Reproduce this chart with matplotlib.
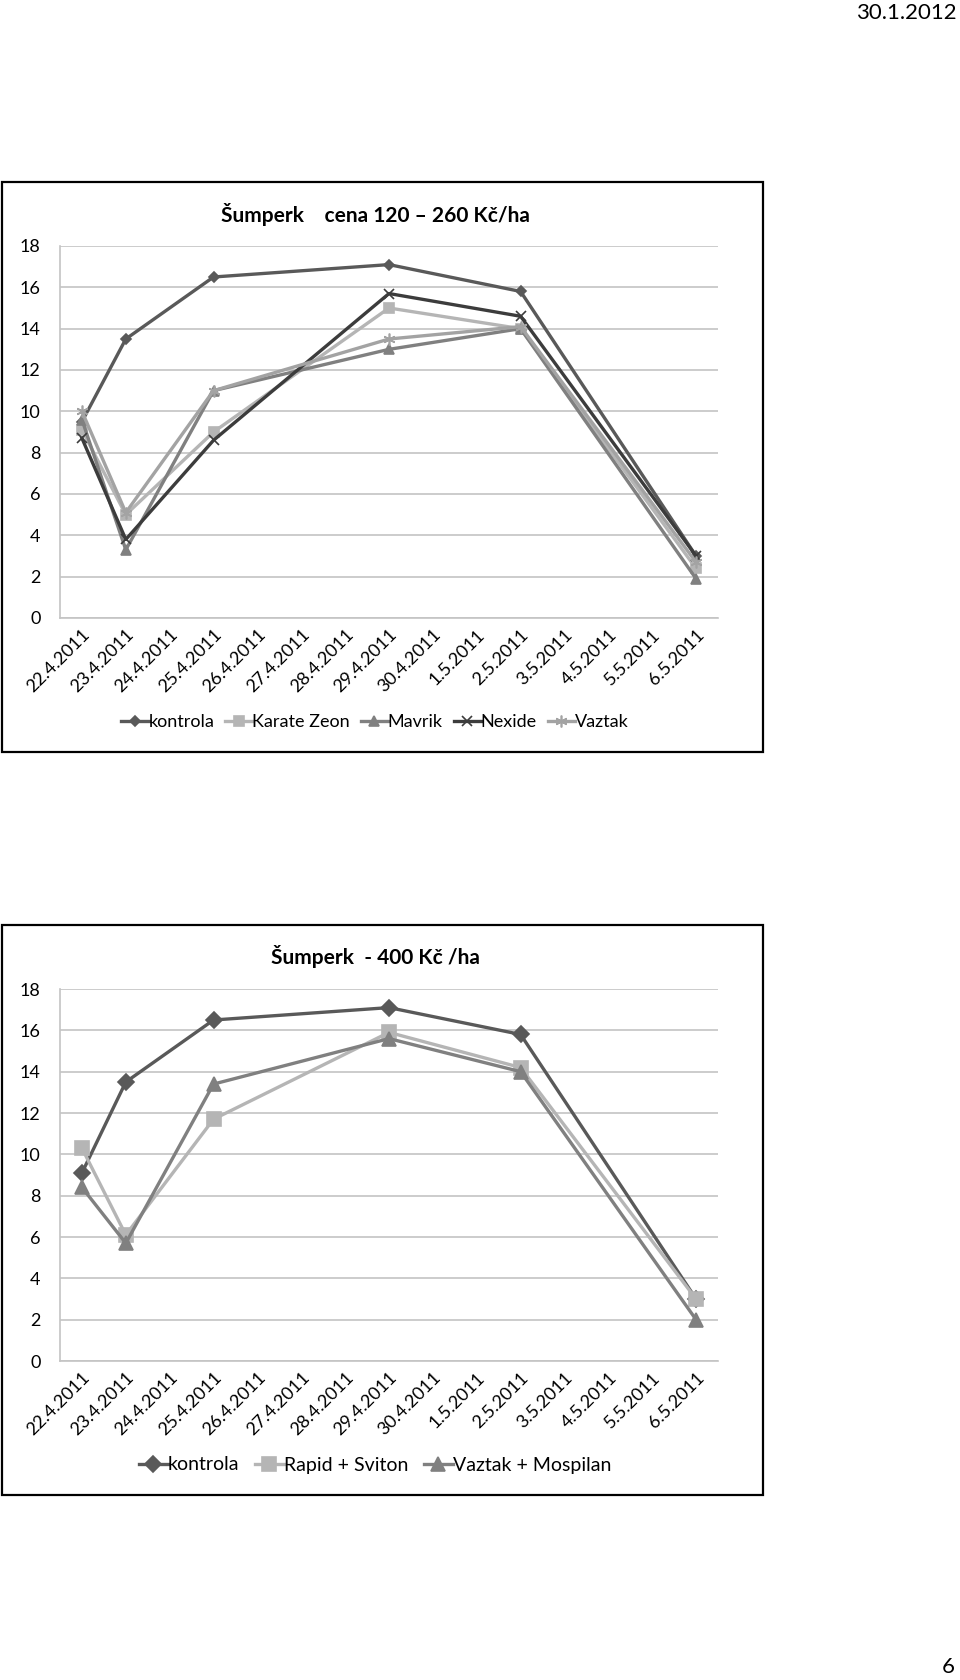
import numpy as np
import matplotlib
matplotlib.use("Agg")
import matplotlib.pyplot as plt
from matplotlib.patches import Rectangle

plt.rcParams['font.family'] = ['Lato', 'DejaVu Sans']

# dates on the category axis
dates = ["22.4.2011", "23.4.2011", "24.4.2011", "25.4.2011", "26.4.2011",
         "27.4.2011", "28.4.2011", "29.4.2011", "30.4.2011", "1.5.2011",
         "2.5.2011", "3.5.2011", "4.5.2011", "5.5.2011", "6.5.2011"]

# chart 1: Šumperk cena 120 – 260 Kč/ha
kontrola_1 = [9.5, 13.5, None, 16.5, None, None, None, 17.1, None, None, 15.8, None, None, None, 3.0]
karate_zeon = [9.1, 5.0, None, 9.0, None, None, None, 15.0, None, None, 14.0, None, None, None, 2.4]
mavrik = [9.6, 3.3, None, 11.0, None, None, None, 13.0, None, None, 14.0, None, None, None, 1.9]
nexide = [8.7, 3.8, None, 8.6, None, None, None, 15.7, None, None, 14.6, None, None, None, 3.0]
vaztak = [10.0, 5.1, None, 11.0, None, None, None, 13.5, None, None, 14.1, None, None, None, 2.7]

# chart 2: Šumperk - 400 Kč /ha
kontrola_2 = [9.1, 13.5, None, 16.5, None, None, None, 17.1, None, None, 15.8, None, None, None, 3.0]
rapid_sviton = [10.3, 6.1, None, 11.7, None, None, None, 15.9, None, None, 14.2, None, None, None, 3.0]
vaztak_mospilan = [8.4, 5.7, None, 13.4, None, None, None, 15.6, None, None, 14.0, None, None, None, 2.0]

W, H = 960, 1680
fig = plt.figure(figsize=(W / 100, H / 100), dpi=100)


def frac(px_left, px_top, px_right, px_bottom):
    return [px_left / W, 1 - px_bottom / H, (px_right - px_left) / W, (px_bottom - px_top) / H]


def draw_series(ax, values, label, color, marker, ms):
    xs = [i for i, v in enumerate(values) if v is not None]
    ys = [v for v in values if v is not None]
    ax.plot(xs, ys, color=color, lw=2.4, marker=marker, ms=ms,
            markerfacecolor=color, markeredgecolor=color, mew=1.2, label=label)


def style_axes(ax):
    ax.set_xlim(-0.5, len(dates) - 0.5)
    ax.set_ylim(0, 18)
    ax.set_yticks(range(0, 19, 2))
    ax.set_xticks(range(len(dates)))
    ax.set_xticklabels(dates, rotation=45, ha='right', rotation_mode='anchor', fontsize=13)
    ax.tick_params(axis='y', labelsize=13, length=0, pad=14)
    ax.tick_params(axis='x', length=0, pad=6)
    ax.grid(axis='y', color='#c4c4c4', lw=1.2)
    ax.set_axisbelow(True)
    for s in ['top', 'right']:
        ax.spines[s].set_visible(False)
    for s in ['left', 'bottom']:
        ax.spines[s].set_color('#c4c4c4')
        ax.spines[s].set_linewidth(1.2)


# ---- chart 1 ----
ax1 = fig.add_axes(frac(60, 246, 718, 618))
draw_series(ax1, kontrola_1, "kontrola", '#595959', 'D', 5.5)
draw_series(ax1, karate_zeon, "Karate Zeon", '#b5b5b5', 's', 6.5)
draw_series(ax1, mavrik, "Mavrik", '#808080', '^', 6.5)
draw_series(ax1, nexide, "Nexide", '#3c3c3c', 'x', 7.5)
draw_series(ax1, vaztak, "Vaztak", '#a3a3a3', (6, 2, 0), 8.5)
style_axes(ax1)
ax1.legend(loc='center', bbox_to_anchor=(375 / W, 1 - 722 / H), bbox_transform=fig.transFigure,
           ncol=5, frameon=False, fontsize=13, handlelength=1.5, handletextpad=0.0, columnspacing=0.6)
fig.text(375 / W, 1 - 214 / H, "Šumperk    cena 120 – 260 Kč/ha", ha='center', va='center',
         fontsize=15, fontweight='bold')
fig.patches.append(Rectangle((2 / W, 1 - 752 / H), 761 / W, 570 / H, transform=fig.transFigure,
                             fill=False, ec='black', lw=1.6))

# ---- chart 2 ----
ax2 = fig.add_axes(frac(60, 989, 718, 1361))
draw_series(ax2, kontrola_2, "kontrola", '#595959', 'D', 8)
draw_series(ax2, rapid_sviton, "Rapid + Sviton", '#b5b5b5', 's', 10)
draw_series(ax2, vaztak_mospilan, "Vaztak + Mospilan", '#808080', '^', 10)
style_axes(ax2)
ax2.legend(loc='center', bbox_to_anchor=(375 / W, 1 - 1465 / H), bbox_transform=fig.transFigure,
           ncol=3, frameon=False, fontsize=14, handlelength=1.5, handletextpad=0.0, columnspacing=0.8)
fig.text(375 / W, 1 - 957 / H, "Šumperk  - 400 Kč /ha", ha='center', va='center',
         fontsize=15, fontweight='bold')
fig.patches.append(Rectangle((2 / W, 1 - 1495 / H), 761 / W, 570 / H, transform=fig.transFigure,
                             fill=False, ec='black', lw=1.6))

# page header / footer
fig.text(957 / W, 1 - 13 / H, "30.1.2012", ha='right', va='center', fontsize=16)
fig.text(955 / W, 1 - 1667 / H, "6", ha='right', va='center', fontsize=16)

fig.savefig("out.png", dpi=100)
